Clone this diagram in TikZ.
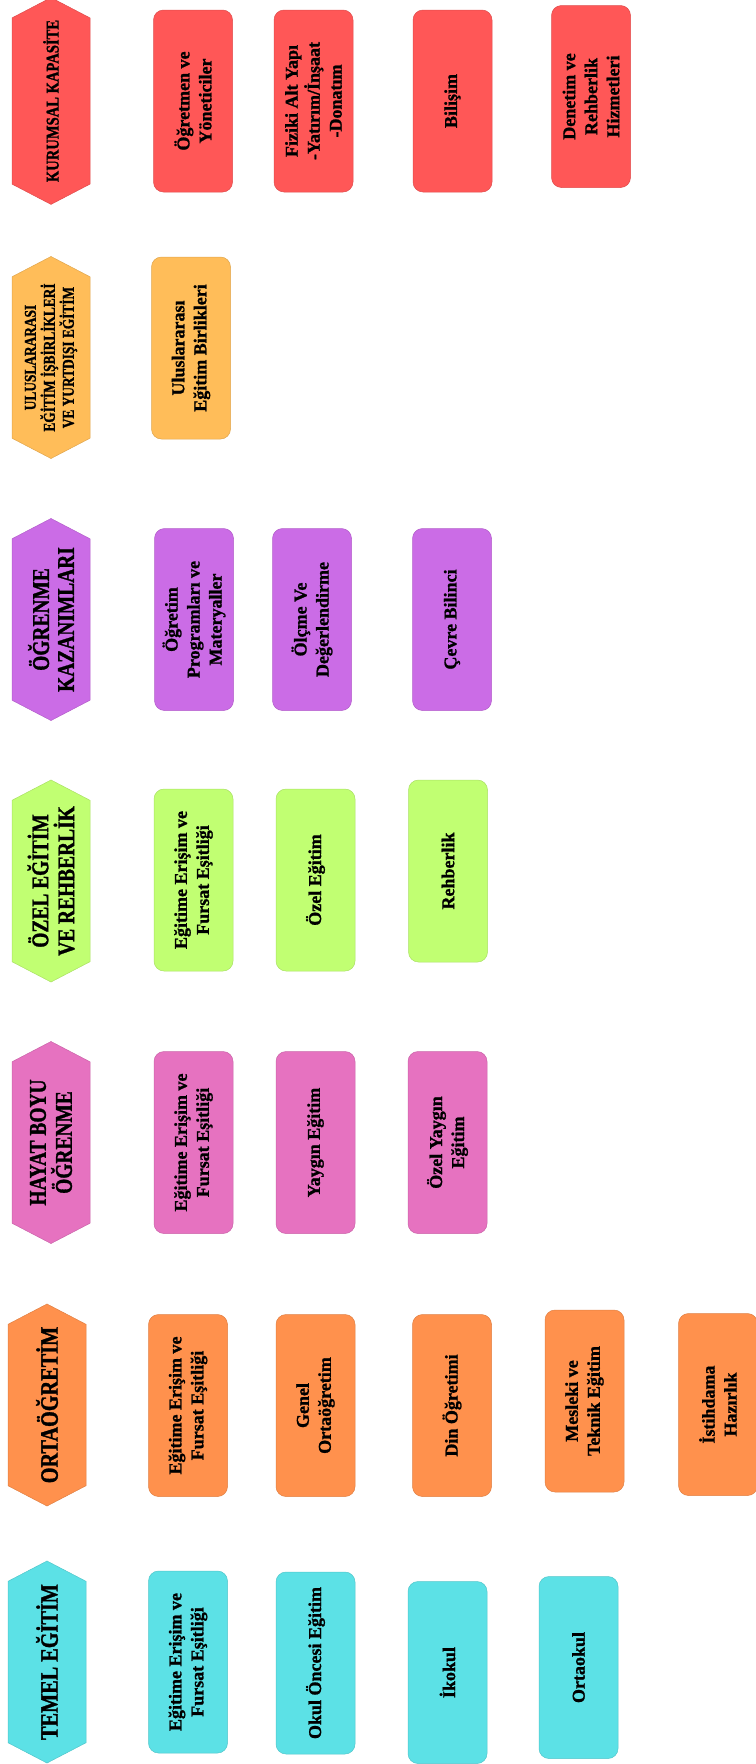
\documentclass[tikz,border=0pt]{standalone}
\usepackage{fontspec}
\setmainfont{Liberation Serif}[BoldFeatures={FakeBold=1.2}]
\newfontfamily\headfont{Liberation Serif}[FakeStretch=0.81, BoldFeatures={FakeBold=1.2}]
\usetikzlibrary{shapes.symbols}

\definecolor{kred}{HTML}{FF5757}
\definecolor{kyellow}{HTML}{FFBD59}
\definecolor{kpurple}{HTML}{CB6CE6}
\definecolor{kgreen}{HTML}{C1FF72}
\definecolor{kpink}{HTML}{E672C0}
\definecolor{korange}{HTML}{FF914D}
\definecolor{kcyan}{HTML}{5CE1E6}

\begin{document}
\begin{tikzpicture}[x=1pt,y=-1pt,
		hexa/.style={signal, signal to=east and west, signal pointer angle=125, rotate=90,
			minimum width=202pt, minimum height=78pt, inner sep=2pt, align=center,
			draw=#1!88!black, fill=#1, line width=0.5pt},
		kutu/.style={rectangle, rounded corners=10pt, rotate=90,
			minimum width=182pt, minimum height=79pt, inner sep=2pt, align=center,
			draw=#1!88!black, fill=#1, line width=0.5pt,
			font=\bfseries\fontsize{18}{22}\selectfont},
		hsz/.style 2 args={font=\headfont\bfseries\fontsize{#1}{#2}\selectfont}]
		\useasboundingbox (0,0) rectangle (755,1764);

		% kurumsal kapasite
		\node[hexa=kred, hsz={18}{20}] (kurumsal) at (51,101) {KURUMSAL KAPASİTE};
		\node[kutu=kred] (ogretmen) at (193,101) {Öğretmen ve\\Yöneticiler};
		\node[kutu=kred] (fiziki) at (313.5,101) {Fiziki Alt Yapı\\-Yatırım/İnşaat\\-Donatım};
		\node[kutu=kred] (bilisim) at (452.5,101) {Bilişim};
		\node[kutu=kred] (denetim) at (591,96.5) {Denetim ve\\Rehberlik\\Hizmetleri};

		% uluslararasi
		\node[hexa=kyellow, hsz={16.5}{19}] (ulus) at (51,357.5) {ULUSLARARASI\\EĞİTİM İŞBİRLİKLERİ\\VE YURTDIŞI EĞİTİM};
		\node[kutu=kyellow] (birlik) at (191,348) {Uluslararası\\Eğitim Birlikleri};

		% ogrenme kazanimlari
		\node[hexa=kpurple, hsz={24}{25}] (kazanim) at (51,619.5) {ÖĞRENME\\KAZANIMLARI};
		\node[kutu=kpurple] (program) at (194,619.5) {Öğretim\\Programları ve\\Materyaller};
		\node[kutu=kpurple] (olcme) at (312,619.5) {Ölçme Ve\\Değerlendirme};
		\node[kutu=kpurple] (cevre) at (452,619.5) {Çevre Bilinci};

		% ozel egitim ve rehberlik
		\node[hexa=kgreen, hsz={24}{26}] (ozel) at (51,881) {ÖZEL EĞİTİM\\VE REHBERLİK};
		\node[kutu=kgreen] (ozel1) at (193.5,880) {Eğitime Erişim ve\\Fursat Eşitliği};
		\node[kutu=kgreen] (ozel2) at (315.5,880) {Özel Eğitim};
		\node[kutu=kgreen] (ozel3) at (448,871) {Rehberlik};

		% hayat boyu ogrenme
		\node[hexa=kpink, hsz={24}{26}] (hayat) at (51,1142.5) {HAYAT BOYU\\ÖĞRENME};
		\node[kutu=kpink] (hayat1) at (193.5,1142.5) {Eğitime Erişim ve\\Fursat Eşitliği};
		\node[kutu=kpink] (hayat2) at (315.5,1142.5) {Yaygın Eğitim};
		\node[kutu=kpink] (hayat3) at (447.5,1142.5) {Özel Yaygın\\Eğitim};

		% ortaogretim
		\node[hexa=korange, hsz={25}{27}] (orta) at (47,1405) {ORTAÖĞRETİM};
		\node[kutu=korange] (orta1) at (188,1405.5) {Eğitime Erişim ve\\Fursat Eşitliği};
		\node[kutu=korange] (orta2) at (315.5,1405.5) {Genel\\Ortaöğretim};
		\node[kutu=korange] (orta3) at (452,1405.5) {Din Öğretimi};
		\node[kutu=korange] (orta4) at (584.5,1401) {Mesleki ve\\Teknik Eğitim};
		\node[kutu=korange] (orta5) at (718,1404.5) {İstihdama\\Hazırlık};

		% temel egitim
		\node[hexa=kcyan, hsz={25}{27}] (temel) at (47,1662) {TEMEL EĞİTİM};
		\node[kutu=kcyan] (temel1) at (188,1662) {Eğitime Erişim ve\\Fursat Eşitliği};
		\node[kutu=kcyan] (temel2) at (315.5,1663) {Okul Öncesi Eğitim};
		\node[kutu=kcyan] (temel3) at (447.5,1672.5) {İkokul};
		\node[kutu=kcyan] (temel4) at (578.5,1667.5) {Ortaokul};
	\end{tikzpicture}
\end{document}
